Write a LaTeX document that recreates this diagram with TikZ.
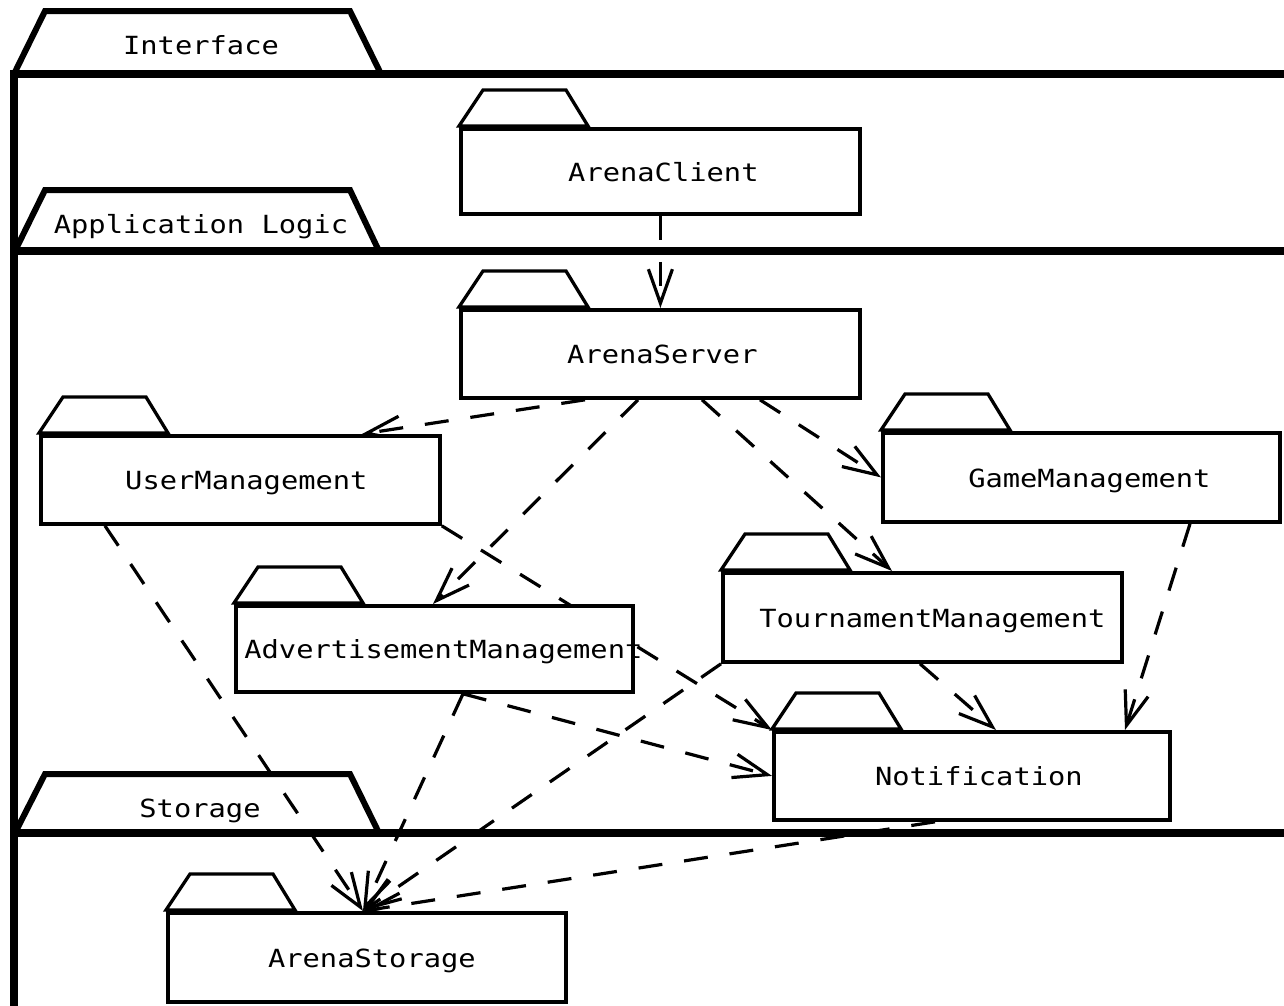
\documentclass[tikz,border=0pt]{standalone}
\usepackage{fontspec}
\newfontfamily\umlfont{DejaVu Sans Mono}[FakeStretch=1.15]
\usetikzlibrary{arrows.meta,calc}

\tikzset{
  x=1pt, y=-1pt,
  lbl/.style={font=\umlfont\fontsize{25}{30}\selectfont, inner sep=0pt, anchor=base},
  pkgbox/.style={draw, fill=white, line width=3.8pt, inner sep=0pt,
    minimum width=#1, minimum height=88pt, anchor=north west},
  pkgbox/.default=399pt,
  pkgtab/.style={draw, fill=white, line width=3.3pt, line join=miter},
  layerline/.style={line width=8.5pt},
  layertab/.style={line width=6pt, line join=miter},
  dep/.style={line width=3.2pt, dash pattern=on 24pt off 22pt,
    -{Straight Barb[length=34pt,width=24pt]}},
}

% folder tab sitting on top of a package box
\newcommand\foldertab[1]{%
  \path[pkgtab] ($(#1.north west)+(0,-1)$) -- ++(24,-36) -- ++(83,0) -- ++(22,36) -- cycle;}

\begin{document}
\begin{tikzpicture}
\path[fill=white] (0,0) rectangle (1284,1005);
\useasboundingbox (0,0) rectangle (1284,1005);

% ---- layers ----
\draw[layerline] (14,70) -- (14,1010);
\draw[layerline] (10,74) -- (1290,74);
\draw[layerline] (10,251) -- (1290,251);
\draw[layerline] (10,833) -- (1290,833);
\draw[layertab] (15,72) -- (45,11) -- (350,11) -- (380,72);
\draw[layertab] (16,249) -- (45,190) -- (350,190) -- (378,249);
\draw[layertab] (16,831) -- (45,774) -- (350,774) -- (378,831);
\node[lbl] (ifc) at (201,54) {Interface};
\node[lbl] (app) at (201,233) {Application Logic};
\node[lbl] (sto) at (200,817) {Storage};

% ---- package positions (boxes are drawn after the connectors) ----
\path (459,127) coordinate (client-nw)  (459,308) coordinate (server-nw)
      (39,434)  coordinate (user-nw)    (881,431) coordinate (game-nw)
      (234,604) coordinate (adv-nw)     (721,571) coordinate (tour-nw)
      (772,730) coordinate (notif-nw)   (166,911) coordinate (store-nw);

\node[pkgbox, minimum height=85pt] (client) at (client-nw) {};
\node[pkgbox] (server) at (server-nw) {};
\node[pkgbox] (user)   at (user-nw) {};
\node[pkgbox=397pt, minimum height=89pt] (game) at (game-nw) {};
\node[pkgbox=397pt, minimum height=86pt] (adv) at (adv-nw) {};
\node[pkgbox, minimum height=89pt] (tour) at (tour-nw) {};
\node[pkgbox=396pt] (notif) at (notif-nw) {};
\node[pkgbox=398pt, minimum height=89pt] (store) at (store-nw) {};

% ---- dependencies ----
\draw[dep] (client.south) -- (server.north);
\draw[dep] ($(server.south west)+(126,0)$) -- ($(user.north west)+(323,0)$);
\draw[dep] ($(server.south west)+(179,0)$) -- ($(adv.north west)+(199,0)$);
\draw[dep] ($(server.south west)+(243,0)$) -- ($(tour.north west)+(171,0)$);
\draw[dep] ($(server.south west)+(301,0)$) -- (game.west);
\draw[dep] (user.south east) -- (notif.north west);
\draw[dep] ($(user.south west)+(66,0)$) -- ($(store.north west)+(197,0)$);
\draw[dep] ($(adv.south west)+(229,0)$) -- (notif.west);
\draw[dep] ($(adv.south west)+(229,0)$) -- ($(store.north west)+(197,0)$);
\draw[dep] (tour.south west) -- ($(store.north west)+(197,0)$);
\draw[dep] ($(tour.south west)+(199,0)$) -- ($(notif.north west)+(224,0)$);
\draw[dep] ($(game.south west)+(309,0)$) -- ($(notif.north west)+(353,0)$);
\draw[dep] ($(notif.south west)+(163,0)$) -- ($(store.north west)+(197,0)$);

% ---- packages drawn over the connectors ----
\node[pkgbox, minimum height=85pt] at (client-nw) {};
\node[pkgbox] at (server-nw) {};
\node[pkgbox] at (user-nw) {};
\node[pkgbox=397pt, minimum height=89pt] at (game-nw) {};
\node[pkgbox=397pt, minimum height=86pt] at (adv-nw) {};
\node[pkgbox, minimum height=89pt] at (tour-nw) {};
\node[pkgbox=396pt] at (notif-nw) {};
\node[pkgbox=398pt, minimum height=89pt] at (store-nw) {};

\foldertab{client}
\foldertab{server}
\foldertab{user}
\foldertab{game}
\foldertab{adv}
\foldertab{tour}
\foldertab{notif}
\foldertab{store}

\node[lbl] (client-t) at ($(client.center)+(3,10)$) {ArenaClient};
\node[lbl] (server-t) at ($(server.center)+(2,10)$) {ArenaServer};
\node[lbl] (user-t)   at ($(user.center)+(6,10)$) {UserManagement};
\node[lbl] (game-t)   at ($(game.center)+(8,10)$) {GameManagement};
\node[lbl] (adv-t)    at ($(adv.center)+(9,10)$) {AdvertisementManagement};
\node[lbl] (tour-t)   at ($(tour.center)+(10,10)$) {TournamentManagement};
\node[lbl] (notif-t)  at ($(notif.center)+(7,10)$) {Notification};
\node[lbl] (store-t)  at ($(store.center)+(5,10)$) {ArenaStorage};
\end{tikzpicture}
\end{document}
